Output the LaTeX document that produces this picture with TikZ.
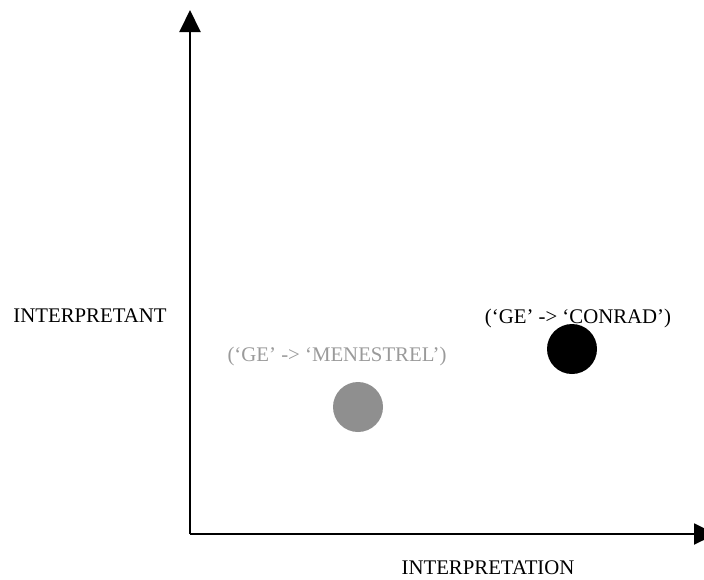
\documentclass[tikz,border=0pt]{standalone}
\usepackage{fontspec}
\setmainfont{Liberation Serif}
\usetikzlibrary{arrows.meta}
\definecolor{dotgray}{HTML}{8F8F8F}
\definecolor{labelgray}{HTML}{9A9A9A}
\begin{document}
\begin{tikzpicture}[
    x=0.5pt, y=-0.5pt,
    axislabel/.style={font=\fontsize{10.4}{12}\selectfont, inner sep=0pt},
    pointlabel/.style={font=\fontsize{10.4}{12}\selectfont, inner sep=0pt},
    dot/.style={circle, minimum size=25pt, inner sep=0pt},
    axis/.style={-{Triangle[width=10.5pt, length=11pt]}, line width=1pt}
]
\useasboundingbox (0,0) rectangle (704,579);

\coordinate (origin) at (190,534);
\coordinate (ytip) at (190,10);
\coordinate (xtip) at (716,534);

\draw[axis] (origin) -- (ytip);
\draw[axis] (origin) -- (xtip);

\node[axislabel] (ylabel) at (90,316) {INTERPRETANT};
\node[axislabel] (xlabel) at (488,568) {INTERPRETATION};

\node[dot, fill=dotgray] (menestrel) at (358,407) {};
\node[pointlabel, text=labelgray] (menestrellabel) at (337,356) {(‘GE’ -> ‘MENESTREL’)};

\node[dot, fill=black] (conrad) at (572,349) {};
\node[pointlabel] (conradlabel) at (578,318) {(‘GE’ -> ‘CONRAD’)};

\end{tikzpicture}
\end{document}
